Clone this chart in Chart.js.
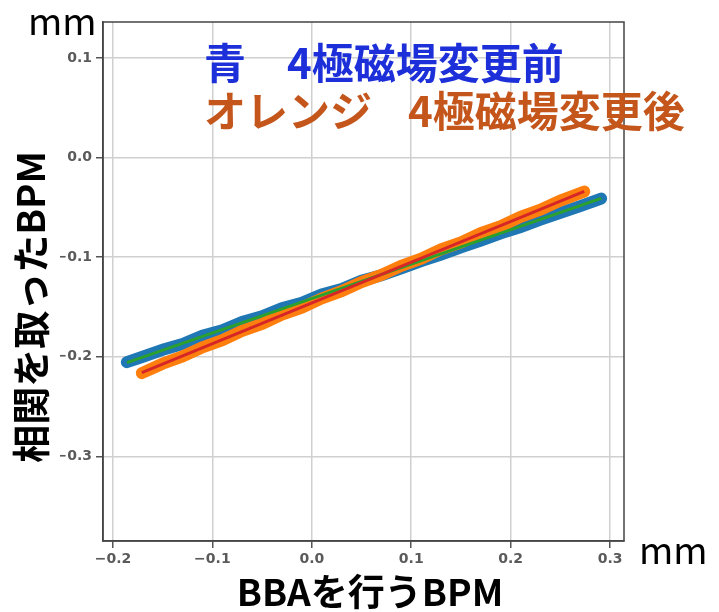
<!DOCTYPE html>
<html>
<head>
<meta charset="utf-8">
<script src="https://cdn.jsdelivr.net/npm/chart.js@4/dist/chart.umd.min.js"></script>
<style>
  html, body { margin: 0; padding: 0; background: #fff; }
  #wrap { width: 719px; height: 612px; }
</style>
</head>
<body>
<div id="wrap"><canvas id="bpm"></canvas></div>
<script>
// BBA BPM (x) vs correlated BPM (y), mm
var blueX = [-0.186, -0.17, -0.15, -0.13, -0.11, -0.09, -0.07, -0.05, -0.03, -0.01, 0.01, 0.03, 0.05,
             0.07, 0.09, 0.11, 0.13, 0.15, 0.17, 0.19, 0.21, 0.23, 0.25, 0.27, 0.291];
var blueY = [-0.2055, -0.2000, -0.1930, -0.1872, -0.1790, -0.1735, -0.1652, -0.1595, -0.1512, -0.1458,
             -0.1375, -0.1320, -0.1236, -0.1182, -0.1112, -0.1040, -0.0975, -0.0902, -0.0835, -0.0762,
             -0.0698, -0.0625, -0.0556, -0.0488, -0.0412];
var orangeX = [-0.171, -0.15, -0.13, -0.11, -0.09, -0.07, -0.05, -0.03, -0.01, 0.01, 0.03, 0.05,
               0.07, 0.09, 0.11, 0.13, 0.15, 0.17, 0.19, 0.21, 0.23, 0.25, 0.274];
var orangeY = [-0.2165, -0.2070, -0.1998, -0.1905, -0.1835, -0.1740, -0.1670, -0.1578, -0.1508, -0.1415,
               -0.1342, -0.1250, -0.1180, -0.1088, -0.1016, -0.0922, -0.0852, -0.0760, -0.0690, -0.0596,
               -0.0525, -0.0432, -0.0342];
// fitted lines (end points)
var greenX = [-0.186, 0.291];
var greenY = [-0.206, -0.041];
var redX = [-0.171, 0.274];
var redY = [-0.216, -0.034];

var xTicks = [-0.2, -0.1, 0.0, 0.1, 0.2, 0.3];
var yTicks = [0.1, 0.0, -0.1, -0.2, -0.3];

var titleX = 'BBAを行うBPM';
var titleY = '相関を取ったBPM';
var unitText = 'mm';
var noteBlue = ['青', '4極磁場変更前'];
var noteOrange = ['オレンジ', '4極磁場変更後'];

function toPoints(xs, ys) {
    var pts = [];
    for (var i = 0; i < xs.length; i++) {
        pts.push({ x: xs[i], y: ys[i] });
    }
    return pts;
}

function fmtTick(v) {
    if (Math.abs(v) < 1e-9) return '0.0';
    return v.toFixed(1).replace('-', '\u2212');
}

var jpFont = '"Noto Sans CJK JP", "Noto Sans", sans-serif';

// texts and the frame round the plot
var extras = {
    id: 'extras',
    afterDraw: function (chart) {
        var ctx = chart.ctx;
        var a = chart.chartArea;
        ctx.save();
        ctx.strokeStyle = '#444';
        ctx.lineWidth = 1.5;
        ctx.strokeRect(a.left, a.top, a.right - a.left, a.bottom - a.top);

        ctx.fillStyle = '#000';
        ctx.font = '37px ' + jpFont;
        ctx.textBaseline = 'alphabetic';
        ctx.textAlign = 'left';
        ctx.fillText(unitText, 28, 35);
        ctx.fillText(unitText, 639, 564);

        ctx.font = 'bold 37px ' + jpFont;
        ctx.textAlign = 'center';
        ctx.textBaseline = 'middle';
        ctx.fillText(titleX, 370, 592);
        ctx.save();
        ctx.translate(31, 307);
        ctx.rotate(-Math.PI / 2);
        ctx.font = 'bold 38px ' + jpFont;
        ctx.fillText(titleY, 0, 0);
        ctx.restore();

        ctx.font = 'bold 42px ' + jpFont;
        ctx.textAlign = 'left';
        ctx.fillStyle = '#1c2fd9';
        ctx.fillText(noteBlue[0], 204, 63);
        ctx.fillText(noteBlue[1], 287, 63);
        ctx.fillStyle = '#c4561c';
        ctx.fillText(noteOrange[0], 204, 111);
        ctx.fillText(noteOrange[1], 408, 111);
        ctx.restore();
    }
};

var ctx = document.getElementById('bpm');
var bpmChart = new Chart(ctx, {
    type: 'line',
    data: {
        datasets: [
            { data: toPoints(blueX, blueY), borderColor: '#1f77b4', borderWidth: 12, order: 3,
              borderCapStyle: 'round', pointRadius: 0, tension: 0 },
            { data: toPoints(orangeX, orangeY), borderColor: '#ff7f0e', borderWidth: 12, order: 2,
              borderCapStyle: 'round', pointRadius: 0, tension: 0 },
            { data: toPoints(greenX, greenY), borderColor: '#2ca02c', borderWidth: 3, order: 1,
              pointRadius: 0, tension: 0 },
            { data: toPoints(redX, redY), borderColor: '#d62728', borderWidth: 3, order: 0,
              pointRadius: 0, tension: 0 }
        ]
    },
    options: {
        responsive: true,
        maintainAspectRatio: false,
        animation: false,
        layout: { padding: { left: 60, top: 22, right: 95, bottom: 41 } },
        plugins: { legend: { display: false }, tooltip: { enabled: false } },
        scales: {
            x: {
                type: 'linear', min: -0.21, max: 0.314,
                afterBuildTicks: function (s) { s.ticks = xTicks.map(function (v) { return { value: v }; }); },
                afterFit: function (s) { s.height = 30; },
                ticks: { callback: fmtTick, color: '#5a5a5a', padding: 3,
                         font: { family: 'DejaVu Sans', size: 14, weight: 'bold' } },
                grid: { color: '#d0d0d0', lineWidth: 1.5, tickColor: '#555', tickLength: 7 },
                border: { display: true, color: '#444', width: 1.5 }
            },
            y: {
                type: 'linear', min: -0.385, max: 0.136,
                afterBuildTicks: function (s) { s.ticks = yTicks.map(function (v) { return { value: v }; }); },
                afterFit: function (s) { s.width = 43; },
                ticks: { callback: fmtTick, color: '#5a5a5a', padding: 4,
                         font: { family: 'DejaVu Sans', size: 14, weight: 'bold' } },
                grid: { color: '#d0d0d0', lineWidth: 1.5, tickColor: '#555', tickLength: 7 },
                border: { display: true, color: '#444', width: 1.5 }
            }
        }
    },
    plugins: [extras]
});
</script>
</body>
</html>
